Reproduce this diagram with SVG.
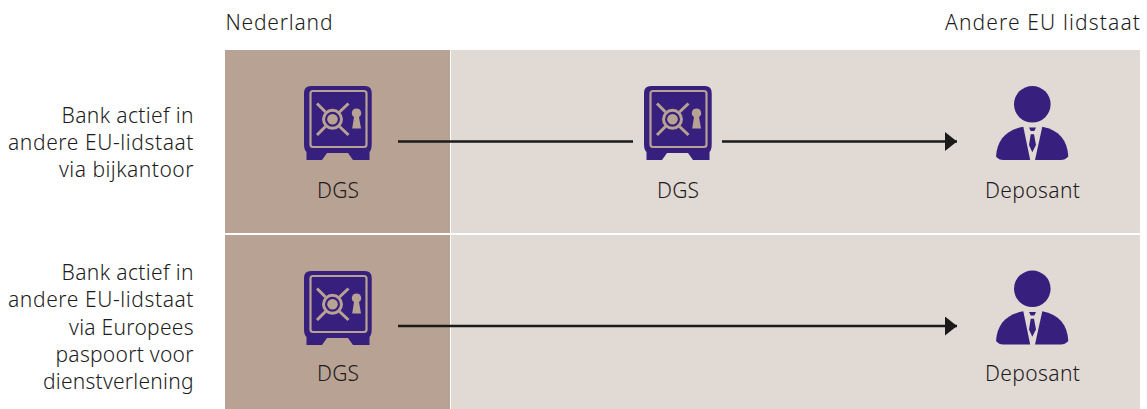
<svg xmlns="http://www.w3.org/2000/svg" width="1147" height="409" viewBox="0 0 1147 409">
<style>
text{font-family:"Noto Sans","Open Sans","Liberation Sans",sans-serif;font-size:21px;font-weight:350;fill:#1c1c1c}
.i{fill:#371f7e}.l{fill:none;stroke:#b8a294;stroke-width:3}.k{fill:#b8a294}
.c{fill:none;stroke:#1a1a1a;stroke-width:2.4}
</style>
<defs>
<marker id="a" markerUnits="userSpaceOnUse" markerWidth="13" markerHeight="20" refX="12" refY="9.5" orient="auto"><path d="M0 0L12 9.5L0 19Z" fill="#1a1a1a"/></marker>
<g id="safe">
<path class="i" d="M311 86H365Q371.700 86 371.700 93V144Q371.700 150 369.500 152V160H353L348 153H327L322 160H306.500V152Q304 150 304 144V93Q304 86 311 86Z"/>
<rect x="310.500" y="91" width="56" height="56" rx="2.500" fill="none" stroke="#b8a294" stroke-width="2.200"/>
<path class="l" d="M317 103.500L325.500 112M348.500 103.500L339.500 112M317 135L325.500 126.500M348.500 135L339.500 126.500"/>
<circle class="l" cx="332.500" cy="119.300" r="9" stroke-width="2.600"/>
<circle class="k" cx="332.500" cy="119.300" r="5.300"/>
<path class="k" d="M356.500 108.500A4.600 4.600 0 0 1 359 117L361 128.500H352.200L354 117A4.600 4.600 0 0 1 356.500 108.500Z"/>
</g>
<g id="person">
<circle class="i" cx="1032.300" cy="104.300" r="18.300"/>
<path class="i" d="M1023.300 126.700L1030.200 160H1003Q999 160 996 156.500C997 140 1006 130 1023.300 126.700Z"/>
<path class="i" d="M1042.300 126.700L1035 160H1061Q1065 160 1068.300 156.500C1067.500 140 1059 130 1042.300 126.700Z"/>
<path class="i" d="M1029 127.500H1036L1034.300 131H1030.700ZM1030.700 134.300H1034L1036 145L1032.300 152.300L1029 145Z"/>
</g>
</defs>
<rect x="225" y="50" width="225" height="183" fill="#b8a294"/>
<rect x="225" y="235" width="225" height="174" fill="#b8a294"/>
<rect x="451" y="50" width="689" height="183" fill="#e1d9d4"/>
<rect x="451" y="235" width="689" height="174" fill="#e1d9d4"/>
<text x="225.500" y="30" textLength="107">Nederland</text>
<text x="945" y="30" textLength="195">Andere EU lidstaat</text>
<g>
<text x="61.500" y="123" textLength="132">Bank actief in</text>
<text x="8" y="150" textLength="185.500">andere EU-lidstaat</text>
<text x="59" y="177" textLength="134.500">via bijkantoor</text>
<text x="61.500" y="280" textLength="132">Bank actief in</text>
<text x="8" y="307" textLength="185.500">andere EU-lidstaat</text>
<text x="69" y="334.500" textLength="124.500">via Europees</text>
<text x="55.500" y="361.500" textLength="138">paspoort voor</text>
<text x="43" y="388.500" textLength="150.500">dienstverlening</text>
</g>
<g id="connectors">
<path class="c" d="M398 141.500H633"/>
<path class="c" d="M722 141.500H957" marker-end="url(#a)"/>
<path class="c" d="M398 326H957" marker-end="url(#a)"/>
</g>
<g id="dgs-nl-1"><use href="#safe"/><text x="317" y="197.500" textLength="42">DGS</text></g>
<g id="dgs-eu-1"><use href="#safe" x="340"/><text x="657" y="197.500" textLength="42">DGS</text></g>
<g id="deposant-1"><use href="#person"/><text x="985" y="197.500" textLength="95">Deposant</text></g>
<g id="dgs-nl-2"><use href="#safe" y="185"/><text x="317" y="381" textLength="42">DGS</text></g>
<g id="deposant-2"><use href="#person" y="184.500"/><text x="985" y="381" textLength="95">Deposant</text></g>
</svg>
